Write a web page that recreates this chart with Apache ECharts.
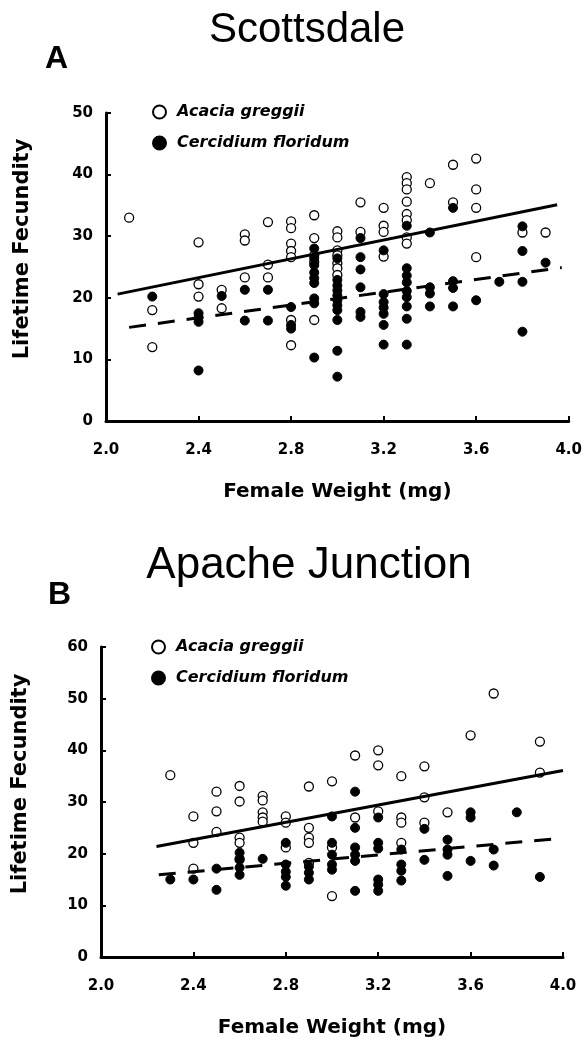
<!DOCTYPE html>
<html>
<head>
<meta charset="utf-8">
<script src="https://cdn.jsdelivr.net/npm/echarts@6/dist/echarts.min.js"></script>
<style>
html,body{margin:0;padding:0;background:#fff;}
#chart{width:585px;height:1047px;}
</style>
</head>
<body>
<div id="chart"></div>
<script>
// ---------- Panel A: Scottsdale ----------
const acaciaA = [
  [2.1,33],
  [2.2,18],[2.2,12],
  [2.4,29],[2.4,22.2],[2.4,20.2],
  [2.5,21.3],[2.5,18.3],
  [2.6,30.3],[2.6,29.3],[2.6,23.3],
  [2.7,32.3],[2.7,25.4],[2.7,23.3],
  [2.8,32.4],[2.8,31.3],[2.8,28.8],[2.8,27.6],[2.8,26.6],[2.8,16.4],[2.8,12.3],
  [2.9,33.4],[2.9,29.7],[2.9,26.9],[2.9,25.8],[2.9,16.4],
  [3.0,30.8],[3.0,29.8],[3.0,27.7],[3.0,26.9],[3.0,25.6],[3.0,24.8],[3.0,23.7],
  [3.1,35.5],[3.1,30.7],
  [3.2,34.6],[3.2,31.7],[3.2,30.7],[3.2,26.7],
  [3.3,39.6],[3.3,38.6],[3.3,37.6],[3.3,35.6],[3.3,33.6],[3.3,32.6],[3.3,29.8],[3.3,28.8],
  [3.4,38.6],
  [3.5,41.6],[3.5,35.5],
  [3.6,42.6],[3.6,37.6],[3.6,34.6],[3.6,26.6],
  [3.8,30.6],
  [3.9,30.6]
];
const cercidiumA = [
  [2.2,20.2],
  [2.4,17.5],[2.4,16.8],[2.4,16.1],[2.4,8.2],
  [2.5,20.3],
  [2.6,21.3],[2.6,16.3],
  [2.7,21.3],[2.7,16.3],
  [2.8,18.5],[2.8,15.6],[2.8,15.0],
  [2.9,28.0],[2.9,26.4],[2.9,25.3],[2.9,24.1],[2.9,23.2],[2.9,22.4],[2.9,19.9],[2.9,19.1],[2.9,10.3],
  [3.0,26.4],[3.0,22.9],[3.0,22.0],[3.0,21.2],[3.0,20.4],[3.0,19.6],[3.0,18.8],[3.0,18.0],[3.0,16.4],[3.0,11.4],[3.0,7.2],
  [3.1,29.7],[3.1,26.6],[3.1,24.6],[3.1,21.7],[3.1,17.7],[3.1,16.9],
  [3.2,27.7],[3.2,20.6],[3.2,19.3],[3.2,18.4],[3.2,17.4],[3.2,15.6],[3.2,12.4],
  [3.3,31.7],[3.3,24.8],[3.3,23.6],[3.3,22.5],[3.3,21.1],[3.3,20.1],[3.3,18.6],[3.3,16.6],[3.3,12.4],
  [3.4,30.6],[3.4,21.7],[3.4,20.7],[3.4,18.6],
  [3.5,34.6],[3.5,22.7],[3.5,21.6],[3.5,18.6],
  [3.6,19.6],
  [3.7,22.6],
  [3.8,31.6],[3.8,27.6],[3.8,22.6],[3.8,14.5],
  [3.9,25.7]
];
const fitAcaciaA = [[2.05,20.6],[3.95,35.1]];
const fitCercidiumA = [[2.1,15.2],[3.97,24.9]];

// ---------- Panel B: Apache Junction ----------
const acaciaB = [
  [2.3,35.2],
  [2.4,27.2],[2.4,22.1],[2.4,17.1],
  [2.5,32.0],[2.5,28.2],[2.5,24.2],
  [2.6,33.1],[2.6,30.1],[2.6,23.1],[2.6,22.1],[2.6,19.0],
  [2.7,31.2],[2.7,30.3],[2.7,28.0],[2.7,27.0],[2.7,26.2],
  [2.8,27.2],[2.8,26.0],[2.8,21.2],
  [2.9,33.0],[2.9,25.0],[2.9,23.1],[2.9,22.1],[2.9,18.2],
  [3.0,34.0],[3.0,21.2],[3.0,11.8],
  [3.1,39.0],[3.1,27.0],
  [3.2,40.0],[3.2,37.1],[3.2,28.2],
  [3.3,35.0],[3.3,27.0],[3.3,26.0],[3.3,22.1],
  [3.4,36.9],[3.4,30.9],[3.4,26.0],
  [3.5,28.0],
  [3.6,42.9],
  [3.7,51.0],
  [3.9,41.7],[3.9,35.7]
];
const cercidiumB = [
  [2.3,15.0],
  [2.4,15.0],
  [2.5,17.1],[2.5,13.0],
  [2.6,20.2],[2.6,18.8],[2.6,17.3],[2.6,15.9],
  [2.7,19.0],
  [2.8,22.1],[2.8,17.9],[2.8,16.5],[2.8,15.5],[2.8,13.8],
  [2.9,17.5],[2.9,16.3],[2.9,15.0],
  [3.0,27.2],[3.0,22.1],[3.0,19.8],[3.0,17.9],[3.0,16.9],
  [3.1,32.0],[3.1,25.0],[3.1,21.2],[3.1,19.8],[3.1,18.6],[3.1,12.8],
  [3.2,27.0],[3.2,22.1],[3.2,21.0],[3.2,15.0],[3.2,14.0],[3.2,12.8],
  [3.3,20.8],[3.3,17.9],[3.3,16.7],[3.3,14.8],
  [3.4,24.8],[3.4,18.8],
  [3.5,22.7],[3.5,20.8],[3.5,19.8],[3.5,15.7],
  [3.6,28.0],[3.6,27.0],[3.6,18.6],
  [3.7,20.8],[3.7,17.7],
  [3.8,28.0],
  [3.9,15.5]
];
const fitAcaciaB = [[2.24,21.4],[4.0,36.1]];
const fitCercidiumB = [[2.25,15.9],[3.97,22.9]];

const seriesNames = ['Acacia greggii','Cercidium floridum'];
const panelTitles = ['Scottsdale','Apache Junction'];
const panelLetters = ['A','B'];
const xTitle = 'Female Weight (mg)';
const yTitle = 'Lifetime Fecundity';

const TFONT = '"Liberation Sans", Arial, Helvetica, sans-serif';
const LFONT = '"DejaVu Sans", Verdana, sans-serif';

function xAxisCfg(gridIndex){
  return {
    gridIndex, type:'value', min:2, max:4, interval:0.4,
    name: xTitle, nameLocation:'middle', nameGap:61,
    nameTextStyle:{fontFamily:LFONT, fontWeight:'bold', fontSize:20, color:'#000'},
    axisLine:{lineStyle:{color:'#000', width:3}},
    axisTick:{inside:true, length:5, lineStyle:{color:'#000', width:2}},
    axisLabel:{fontFamily:LFONT, fontWeight:'bold', fontSize:15, color:'#000', margin:22,
      formatter:v=>v.toFixed(1)},
    splitLine:{show:false}
  };
}
function yAxisCfg(gridIndex, max, gap){
  return {
    gridIndex, type:'value', min:0, max, interval:10,
    name: yTitle, nameLocation:'middle', nameGap:gap,
    nameTextStyle:{fontFamily:LFONT, fontWeight:'bold', fontSize:21, color:'#000',
      padding:[0,0,0,36]},
    axisLine:{lineStyle:{color:'#000', width:3}},
    axisTick:{inside:true, length:5, lineStyle:{color:'#000', width:2}},
    axisLabel:{fontFamily:LFONT, fontWeight:'bold', fontSize:15, color:'#000', margin:13},
    splitLine:{show:false}
  };
}
const openStyle = {color:'#fff', borderColor:'#000', borderWidth:1.3, opacity:1};
const filledStyle = {color:'#000', borderColor:'#000', borderWidth:1, opacity:1};

function scatter(name, data, idx, style){
  return {name, type:'scatter', xAxisIndex:idx, yAxisIndex:idx, data,
    symbol:'circle', symbolSize:9, itemStyle:style, z:2, emphasis:{disabled:true}};
}
function fit(name, data, idx, dashed){
  return {name, type:'line', xAxisIndex:idx, yAxisIndex:idx, data,
    showSymbol:false, symbol:'none', z:3,
    lineStyle:{color:'#000', width:3, type: dashed ? [17,12] : 'solid'}};
}
function legendCfg(left, top){
  return {
    data: seriesNames, orient:'vertical', left, top, padding:0,
    itemWidth:13, itemHeight:13, itemGap:15,
    selectedMode:false,
    textStyle:{fontFamily:LFONT, fontStyle:'italic', fontWeight:'bold', fontSize:16, color:'#000',
      padding:[0,0,0,6]}
  };
}

const chart = echarts.init(document.getElementById('chart'), null, {renderer:'canvas'});
chart.setOption({
  backgroundColor:'#fff',
  animation:false,
  title:[
    {text:panelTitles[0], left:302, top:4, textAlign:'center',
      textStyle:{fontFamily:TFONT, fontWeight:'normal', fontSize:42, color:'#000'}},
    {text:panelLetters[0], left:40, top:38,
      textStyle:{fontFamily:TFONT, fontWeight:'bold', fontSize:32, color:'#000'}},
    {text:panelTitles[1], left:304, top:539, textAlign:'center',
      textStyle:{fontFamily:TFONT, fontWeight:'normal', fontSize:44, color:'#000'}},
    {text:panelLetters[1], left:43, top:574,
      textStyle:{fontFamily:TFONT, fontWeight:'bold', fontSize:32, color:'#000'}}
  ],
  legend:[legendCfg(152, 104), legendCfg(151, 639)],
  grid:[
    {left:106, top:113, width:463, height:308},
    {left:101, top:647, width:462, height:310}
  ],
  xAxis:[xAxisCfg(0), xAxisCfg(1)],
  yAxis:[yAxisCfg(0,50,73), yAxisCfg(1,60,70)],
  series:[
    scatter(seriesNames[0], acaciaA, 0, openStyle),
    scatter(seriesNames[1], cercidiumA, 0, filledStyle),
    fit('Acacia fit A', fitAcaciaA, 0, false),
    fit('Cercidium fit A', fitCercidiumA, 0, true),
    scatter(seriesNames[0], acaciaB, 1, openStyle),
    scatter(seriesNames[1], cercidiumB, 1, filledStyle),
    fit('Acacia fit B', fitAcaciaB, 1, false),
    fit('Cercidium fit B', fitCercidiumB, 1, true)
  ]
});
</script>
</body>
</html>
